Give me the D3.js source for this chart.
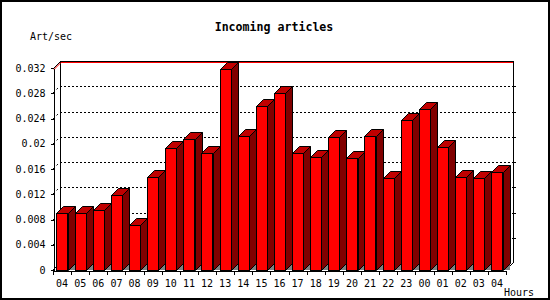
<!DOCTYPE html>
<html>
<head>
<meta charset="utf-8">
<script src="https://cdn.jsdelivr.net/npm/d3@7/dist/d3.min.js"></script>
<style>
  body { margin: 0; background: #fff; }
  svg { display: block; }
  text { font-family: "DejaVu Sans Mono", monospace; font-size: 10px; fill: #000; }
</style>
</head>
<body>
<div id="chart"></div>
<script>
// data (articles per second by hour)
let hours = ["04", "05", "06", "07", "08", "09", "10", "11", "12", "13", "14", "15", "16",
	"17", "18", "19", "20", "21", "22", "23", "00", "01", "02", "03", "04"];
let rates = [0.0091, 0.0090, 0.0095, 0.0119, 0.0071, 0.0147, 0.0193, 0.0207, 0.0185, 0.0318,
	0.0212, 0.0260, 0.0280, 0.0185, 0.0179, 0.0210, 0.0177, 0.0212, 0.0145, 0.0237,
	0.0255, 0.0195, 0.0148, 0.0145, 0.0156];
let yTicks = [0, 0.004, 0.008, 0.012, 0.016, 0.02, 0.024, 0.028, 0.032];

let width = 550, height = 300;
let margin = {top: 68, right: 37, bottom: 30, left: 53};
let depth = 7;

let svg = d3.select("#chart").append("svg")
	.attr("width", width)
	.attr("height", height);

// frame
svg.append("rect")
	.attr("x", 1).attr("y", 1)
	.attr("width", width - 2).attr("height", height - 2)
	.attr("fill", "#fff")
	.attr("stroke", "#000")
	.attr("stroke-width", 2);

let x = d3.scaleBand()
	.domain(d3.range(hours.length))
	.range([margin.left, width - margin.right - depth])
	.padding(0);

let y = d3.scaleLinear()
	.domain([0, 0.032])
	.range([height - margin.bottom, margin.top]);

let x0 = x.range()[0], x1 = x.range()[1];
let y0 = y(0), yTop = y(0.032);

let g = svg.append("g").attr("shape-rendering", "crispEdges");

// back wall grid (dotted)
yTicks.filter(d => d > 0 && d < 0.032).forEach(function(t) {
	let yy = Math.round(y(t)) - depth + 0.5;
	g.append("line")
		.attr("x1", x0 + depth).attr("x2", x1 + depth)
		.attr("y1", yy).attr("y2", yy)
		.attr("stroke", "#000")
		.attr("stroke-dasharray", "2,2");
	g.append("line")
		.attr("x1", x1 + depth).attr("x2", x1 + depth + 3)
		.attr("y1", yy).attr("y2", yy)
		.attr("stroke", "#000");
	svg.append("line")
		.attr("x1", x0).attr("y1", Math.round(y(t)))
		.attr("x2", x0 + depth).attr("y2", Math.round(y(t)) - depth)
		.attr("stroke", "#000")
		.attr("stroke-dasharray", "2,3");
});

// back wall outline
g.append("path")
	.attr("fill", "none")
	.attr("stroke", "#000")
	.attr("d", "M" + (x0 + depth + 0.5) + "," + (y0 - depth) +
		"V" + (yTop - depth + 0.5) + "H" + (x1 + depth + 0.5) + "V" + (y0 - depth));

svg.append("path")
	.attr("fill", "none")
	.attr("stroke", "#000")
	.attr("d", "M" + (x0 + 0.5) + "," + (yTop + 0.5) + "L" + (x0 + depth + 0.5) + "," + (yTop - depth + 0.5) +
		"M" + x0 + "," + y0 + "L" + (x0 + depth) + "," + (y0 - depth) +
		"M" + x1 + "," + y0 + "L" + (x1 + depth) + "," + (y0 - depth));

// maximum line
let maxV = d3.max(rates);
let yMax = Math.round(y(maxV));
g.append("line")
	.attr("x1", x0 + depth + 1).attr("x2", x1 + depth)
	.attr("y1", yMax - depth + 0.5).attr("y2", yMax - depth + 0.5)
	.attr("stroke", "#f00");
svg.append("line")
	.attr("x1", x0 + 1).attr("y1", yMax + 0.5)
	.attr("x2", x0 + depth + 1).attr("y2", yMax - depth + 0.5)
	.attr("stroke", "#f00");

// bars
let bw = x.bandwidth();
let off = bw * 0.19, fw = bw * 0.62;

let bars = svg.selectAll(".bar")
	.data(rates)
	.enter()
	.append("g")
	.attr("class", "bar");

bars.append("path")
	.attr("fill", "#808080")
	.attr("d", (d, i) => {
		let xr = Math.round(x(i) + off + fw);
		return "M" + xr + "," + y0 + "L" + (xr + depth) + "," + (y0 - depth) + "V" + y0 + "Z";
	});

bars.append("path")
	.attr("fill", "#800000")
	.attr("stroke", "#000")
	.attr("d", (d, i) => {
		let xr = Math.round(x(i) + off + fw) + 0.5, yt = Math.round(y(d)) + 0.5;
		return "M" + xr + "," + yt + "L" + (xr + depth) + "," + (yt - depth) +
			"V" + (y0 - depth + 0.5) + "L" + xr + "," + (y0 + 0.5) + "Z";
	});

bars.append("path")
	.attr("fill", "#c00000")
	.attr("stroke", "#000")
	.attr("d", (d, i) => {
		let xl = Math.round(x(i) + off) + 0.5, xr = Math.round(x(i) + off + fw) + 0.5;
		let yt = Math.round(y(d)) + 0.5;
		return "M" + xl + "," + yt + "L" + (xl + depth) + "," + (yt - depth) +
			"H" + (xr + depth) + "L" + xr + "," + yt + "Z";
	});

bars.append("rect")
	.attr("shape-rendering", "crispEdges")
	.attr("x", (d, i) => Math.round(x(i) + off) + 0.5)
	.attr("y", d => Math.round(y(d)) + 0.5)
	.attr("width", Math.round(fw))
	.attr("height", d => y0 - Math.round(y(d)))
	.attr("fill", "#ff0000")
	.attr("stroke", "#000");

// y axis
let yAxis = d3.axisLeft(y)
	.tickValues(yTicks)
	.tickFormat(d => String(d))
	.tickSize(3)
	.tickSizeOuter(0)
	.tickPadding(5);

svg.append("g")
	.attr("class", "axis y-axis")
	.attr("transform", "translate(" + (x0 + 0.5) + ",0)")
	.attr("shape-rendering", "crispEdges")
	.call(yAxis);

// x axis: ticks at hour boundaries, labels centred
let xAxis = d3.axisBottom(x)
	.tickFormat(i => hours[i])
	.tickSize(0)
	.tickPadding(9);

let xg = svg.append("g")
	.attr("class", "axis x-axis")
	.attr("transform", "translate(0," + (y0 + 0.5) + ")")
	.attr("shape-rendering", "crispEdges")
	.call(xAxis);

xg.selectAll(".bound")
	.data(d3.range(hours.length + 1))
	.enter()
	.append("line")
	.attr("class", "bound")
	.attr("x1", i => Math.round(x0 + i * bw) + 0.5)
	.attr("x2", i => Math.round(x0 + i * bw) + 0.5)
	.attr("y1", 0).attr("y2", 4)
	.attr("stroke", "#000");

svg.selectAll(".axis path").attr("stroke", "#000");
svg.selectAll(".axis line").attr("stroke", "#000");
svg.selectAll(".axis text")
	.attr("fill", "#000")
	.style("font-family", "'DejaVu Sans Mono', monospace")
	.style("font-size", "10px");

// titles
svg.append("text")
	.attr("x", 274).attr("y", 31)
	.attr("text-anchor", "middle")
	.style("font-weight", "bold")
	.style("font-size", "11.6px")
	.text("Incoming articles");

svg.append("text")
	.attr("x", 30).attr("y", 40)
	.text("Art/sec");

svg.append("text")
	.attr("x", 504).attr("y", 296)
	.text("Hours");
</script>
</body>
</html>
